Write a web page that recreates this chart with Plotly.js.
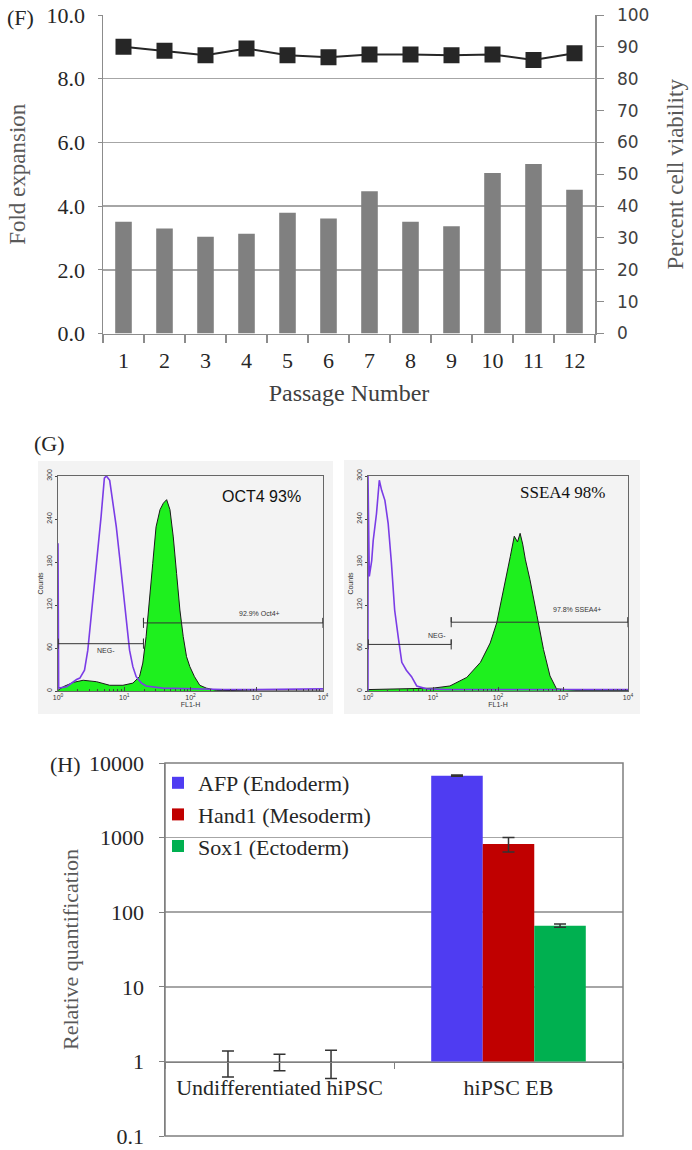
<!DOCTYPE html>
<html><head><meta charset="utf-8">
<script src="https://cdn.plot.ly/plotly-3.0.1.min.js"></script>
<style>html,body{margin:0;padding:0;background:#fff;} #chart{width:692px;height:1150px;}</style>
</head><body><div id="chart"></div>
<script>
// ---------- Panel F : expansion & viability ----------
var passages = ['1','2','3','4','5','6','7','8','9','10','11','12'];
var foldExpansion = [3.51, 3.30, 3.04, 3.13, 3.79, 3.61, 4.47, 3.51, 3.37, 5.04, 5.32, 4.51];
var viability = [90.0, 88.8, 87.4, 89.5, 87.4, 86.7, 87.6, 87.6, 87.4, 87.6, 85.9, 88.0];

// ---------- Panel G : flow cytometry (log10 FL1-H, counts) ----------
var oct4IsoLogFL1 = [0.0, 0.01, 0.13, 0.28, 0.33, 0.40, 0.45, 0.50, 0.55, 0.60, 0.65, 0.70, 0.73, 0.78, 0.83, 0.88, 0.93, 0.98, 1.03, 1.08, 1.13, 1.18, 1.26, 1.33, 1.58, 2.0, 2.5, 3.0, 3.5, 4.0];
var oct4IsoCounts = [206, 4, 6, 16, 18, 29, 57, 104, 155, 192, 243, 297, 300, 294, 263, 229, 187, 141, 99, 57, 34, 20, 11, 7, 4, 3, 2, 2, 2, 3];
var oct4LogFL1 = [0.0, 0.08, 0.23, 0.38, 0.58, 0.78, 0.98, 1.13, 1.23, 1.28, 1.33, 1.38, 1.43, 1.48, 1.54, 1.59, 1.64, 1.69, 1.74, 1.79, 1.84, 1.89, 1.94, 1.99, 2.06, 2.14, 2.24, 2.39, 3.0, 4.0];
var oct4Counts = [1, 6, 12, 15, 13, 8, 8, 11, 20, 39, 76, 122, 178, 229, 253, 262, 267, 253, 215, 164, 113, 76, 48, 34, 20, 8, 4, 1, 0, 0];
var oct4NegGate = [0, 1.29], oct4NegLevel = 66;
var oct4PosGate = [1.29, 4], oct4PosLevel = 95;

var ssea4IsoLogFL1 = [0.0, 0.0, 0.02, 0.057, 0.08, 0.13, 0.174, 0.21, 0.26, 0.31, 0.36, 0.41, 0.47, 0.52, 0.59, 0.67, 0.75, 0.90, 1.2, 1.6, 2.0, 2.5, 3.0, 3.5, 4.0];
var ssea4IsoCounts = [0, 300, 160, 182, 210, 247, 294, 280, 266, 234, 179, 113, 72, 40, 29, 20, 7, 3, 2, 2, 1, 1, 1, 1, 2];
var ssea4LogFL1 = [0.0, 0.5, 1.0, 1.26, 1.52, 1.73, 1.88, 1.98, 2.08, 2.19, 2.25, 2.30, 2.34, 2.38, 2.42, 2.49, 2.60, 2.70, 2.80, 2.90, 3.2, 4.0];
var ssea4Counts = [2, 3, 4, 7, 19, 40, 67, 95, 137, 188, 216, 208, 220, 205, 184, 156, 105, 58, 21, 3, 1, 1];
var ssea4NegGate = [0, 1.28], ssea4NegLevel = 65;
var ssea4PosGate = [1.28, 4], ssea4PosLevel = 96;

// ---------- Panel H : qPCR ----------
var groups = ['Undifferentiated hiPSC', 'hiPSC EB'];
var afp = [1, 6760], afpErr = [0.38, 140];
var hand1 = [1, 820], hand1Err = [0.25, 180];
var sox1 = [1, 66], sox1Err = [0.41, 3.3];
var logTicks = [0.1, 1, 10, 100, 1000, 10000];
var logTickText = ['0.1', '1', '10', '100', '1000', '10000'];

// ---------- helpers ----------
var W = 692, H = 1150;
function px(x){ return x / W; }
function py(y){ return 1 - y / H; }
function pow10(a){ return a.map(function(d){ return Math.pow(10, d); }); }
function gate(bounds, level, xa, ya){
  var h = 7;
  return {x: pow10([bounds[0], bounds[0], bounds[0], bounds[1], bounds[1], bounds[1]]),
          y: [level - h, level + h, level, level, level + h, level - h],
          xaxis: xa, yaxis: ya, mode: 'lines', line: {color: '#333', width: 1},
          showlegend: false, hoverinfo: 'skip', type: 'scatter'};
}
var serif = 'Liberation Serif, Times New Roman, serif';
var sans = 'Liberation Sans, Arial, sans-serif';
var verd = 'DejaVu Sans, Verdana, sans-serif';
var purple = '#7a3ce6', green = '#1ef01e';

var minorVals = [];
for (var dcd = 0; dcd < 4; dcd++) for (var k = 2; k <= 9; k++) minorVals.push(k * Math.pow(10, dcd));

var data = [
  // F
  {type: 'bar', x: passages, y: foldExpansion, xaxis: 'x', yaxis: 'y', width: 0.405,
   marker: {color: '#808080'}, showlegend: false, name: 'Fold expansion'},
  {type: 'scatter', mode: 'lines+markers', x: passages, y: viability, xaxis: 'x', yaxis: 'y2',
   line: {color: '#262626', width: 2}, marker: {symbol: 'square', size: 16, color: '#262626'},
   showlegend: false, name: 'Percent cell viability'},
  // G left
  {type: 'scatter', mode: 'lines', x: pow10(oct4LogFL1), y: oct4Counts, xaxis: 'x2', yaxis: 'y3',
   fill: 'tozeroy', fillcolor: green, line: {color: '#1a1a1a', width: 1}, showlegend: false, name: 'OCT4'},
  {type: 'scatter', mode: 'lines', x: pow10(oct4IsoLogFL1), y: oct4IsoCounts, xaxis: 'x2', yaxis: 'y3',
   line: {color: purple, width: 1.6}, showlegend: false, name: 'Isotype'},
  gate(oct4NegGate, oct4NegLevel, 'x2', 'y3'),
  gate(oct4PosGate, oct4PosLevel, 'x2', 'y3'),
  // G right
  {type: 'scatter', mode: 'lines', x: pow10(ssea4LogFL1), y: ssea4Counts, xaxis: 'x3', yaxis: 'y4',
   fill: 'tozeroy', fillcolor: green, line: {color: '#1a1a1a', width: 1}, showlegend: false, name: 'SSEA4'},
  {type: 'scatter', mode: 'lines', x: pow10(ssea4IsoLogFL1), y: ssea4IsoCounts, xaxis: 'x3', yaxis: 'y4',
   line: {color: purple, width: 1.6}, showlegend: false, name: 'Isotype'},
  gate(ssea4NegGate, ssea4NegLevel, 'x3', 'y4'),
  gate(ssea4PosGate, ssea4PosLevel, 'x3', 'y4'),
  // H
  {type: 'bar', name: 'AFP (Endoderm)', x: groups, y: afp.map(function(v){return v - 1;}), base: 1,
   xaxis: 'x4', yaxis: 'y5', marker: {color: '#4f3cf2'},
   error_y: {type: 'data', array: afpErr, color: '#333', thickness: 1.5, width: 6}},
  {type: 'bar', name: 'Hand1 (Mesoderm)', x: groups, y: hand1.map(function(v){return v - 1;}), base: 1,
   xaxis: 'x4', yaxis: 'y5', marker: {color: '#c00000'},
   error_y: {type: 'data', array: hand1Err, color: '#333', thickness: 1.5, width: 6}},
  {type: 'bar', name: 'Sox1 (Ectoderm)', x: groups, y: sox1.map(function(v){return v - 1;}), base: 1,
   xaxis: 'x4', yaxis: 'y5', marker: {color: '#00b050'},
   error_y: {type: 'data', array: sox1Err, color: '#333', thickness: 1.5, width: 6}}
];

function flowX(dom, anchor){
  return {domain: dom, anchor: anchor, type: 'log', range: [0, 4],
    tickvals: [1, 10, 100, 1000, 10000],
    ticktext: ['10<sup>0</sup>', '10<sup>1</sup>', '10<sup>2</sup>', '10<sup>3</sup>', '10<sup>4</sup>'],
    ticks: 'inside', ticklen: 4, tickcolor: '#444',
    minor: {tickvals: minorVals, ticks: 'inside', ticklen: 2, tickcolor: '#444'},
    showline: true, mirror: true, linecolor: '#666', linewidth: 1,
    showgrid: false, zeroline: false, ticklabelstandoff: 0,
    tickfont: {family: sans, size: 7, color: '#333'},
    title: {text: 'FL1-H', font: {family: sans, size: 7, color: '#333'}, standoff: 1}};
}
function flowY(dom, anchor){
  return {domain: dom, anchor: anchor, range: [0, 300], tickvals: [0, 60, 120, 180, 240, 300],
    tickangle: -90, ticks: 'outside', ticklen: 2, tickcolor: '#444',
    showline: true, mirror: true, linecolor: '#666', linewidth: 1,
    showgrid: false, zeroline: false,
    tickfont: {family: sans, size: 7, color: '#333'},
    title: {text: 'Counts', font: {family: sans, size: 7, color: '#333'}, standoff: 1}};
}
function label(t, x, y){
  return {text: t, xref: 'paper', yref: 'paper', x: px(x), y: py(y), xanchor: 'center', yanchor: 'middle',
          showarrow: false, font: {family: serif, size: 22, color: '#262626'}};
}
function note(t, xa, ya, x, y, fam, size){
  return {text: t, xref: xa, yref: ya, x: x, y: y, xanchor: 'center', yanchor: 'middle', showarrow: false,
          font: {family: fam, size: size, color: size > 10 ? '#111' : '#333'}};
}

var layout = {
  width: W, height: H, margin: {l: 0, r: 0, t: 0, b: 0},
  paper_bgcolor: '#ffffff', plot_bgcolor: 'rgba(0,0,0,0)',
  font: {family: serif, color: '#262626'},
  barmode: 'group', bargap: 0.325, bargroupgap: 0,
  showlegend: true,
  legend: {x: px(158), y: py(762), xanchor: 'left', yanchor: 'top', bgcolor: 'rgba(0,0,0,0)',
           font: {family: serif, size: 22, color: '#262626'}, traceorder: 'normal'},
  // F
  xaxis: {domain: [px(103), px(595)], anchor: 'y', type: 'category', range: [-0.5, 11.5],
    tickson: 'boundaries', ticks: 'outside', ticklen: 8, tickcolor: '#8c8c8c', tickwidth: 1.5,
    showline: true, linecolor: '#8c8c8c', linewidth: 1.5, showgrid: false, zeroline: false,
    ticklabelstandoff: 7,
    tickfont: {family: serif, size: 22, color: '#262626'},
    title: {text: 'Passage Number', font: {family: serif, size: 24, color: '#404040'}, standoff: 12}},
  yaxis: {domain: [py(333.5), py(15)], anchor: 'x', range: [0, 10], dtick: 2, tick0: 0, tickformat: '.1f',
    showgrid: true, gridcolor: '#a6a6a6', gridwidth: 1.5, showline: true, linecolor: '#8c8c8c', linewidth: 1.5,
    ticks: 'outside', ticklen: 4, tickcolor: '#8c8c8c', zeroline: false, ticklabelstandoff: 8,
    tickfont: {family: serif, size: 22, color: '#262626'},
    title: {text: 'Fold expansion', font: {family: serif, size: 23, color: '#595959'}, standoff: 14}},
  yaxis2: {overlaying: 'y', side: 'right', anchor: 'x', range: [0, 100], dtick: 10, tick0: 0,
    showgrid: false, showline: true, linecolor: '#8c8c8c', linewidth: 1.5, zeroline: false,
    ticks: 'outside', ticklen: 7, tickcolor: '#8c8c8c', ticklabelstandoff: 10,
    tickfont: {family: verd, size: 17, color: '#404040'},
    title: {text: 'Percent cell viability', font: {family: serif, size: 23, color: '#595959'}, standoff: 18}},
  // G
  xaxis2: flowX([px(58), px(323)], 'y3'),
  yaxis3: flowY([py(691), py(476)], 'x2'),
  xaxis3: flowX([px(368), px(628)], 'y4'),
  yaxis4: flowY([py(691), py(476)], 'x3'),
  // H
  xaxis4: {domain: [px(165), px(623)], anchor: 'free', position: py(1061.5), type: 'category', range: [-0.5, 1.5],
    tickson: 'boundaries', ticks: 'outside', ticklen: 6, tickcolor: '#808080',
    showline: true, linecolor: '#808080', linewidth: 1.5, showgrid: false, zeroline: false,
    ticklabelstandoff: 6,
    tickfont: {family: serif, size: 22, color: '#262626'}},
  yaxis5: {domain: [py(1136), py(763)], anchor: 'x4', type: 'log', range: [-1, 4],
    tickvals: logTicks, ticktext: logTickText,
    showgrid: true, gridcolor: '#a6a6a6', gridwidth: 1.5, ticks: 'outside', ticklen: 5, tickcolor: '#808080',
    showline: true, linecolor: '#808080', linewidth: 1.5, zeroline: false, ticklabelstandoff: 10,
    tickfont: {family: serif, size: 22, color: '#262626'},
    title: {text: 'Relative quantification', font: {family: serif, size: 22, color: '#595959'}, standoff: 4}},
  shapes: [
    {type: 'rect', xref: 'paper', yref: 'paper', x0: px(38), x1: px(333), y0: py(714), y1: py(461),
     fillcolor: '#f3f3f3', line: {width: 0}, layer: 'below'},
    {type: 'rect', xref: 'paper', yref: 'paper', x0: px(344), x1: px(640), y0: py(714), y1: py(460),
     fillcolor: '#f3f3f3', line: {width: 0}, layer: 'below'},
    {type: 'rect', xref: 'x4 domain', yref: 'y5 domain', x0: 0, x1: 1, y0: 0, y1: 1,
     line: {color: '#7f7f7f', width: 1.5}, layer: 'above'}
  ],
  annotations: [
    label('(F)', 20, 17),
    label('(G)', 49, 443),
    label('(H)', 65, 764),
    note('OCT4 93%', 'x2', 'y3', 3.07, 271, sans, 16),
    note('92.9% Oct4+', 'x2', 'y3', 3.04, 108, sans, 7),
    note('NEG-', 'x2', 'y3', 0.73, 56, sans, 7),
    note('SSEA4 98%', 'x3', 'y4', 2.99, 277, serif, 17),
    note('97.8% SSEA4+', 'x3', 'y4', 3.21, 114, sans, 7),
    note('NEG-', 'x3', 'y4', 1.06, 78, sans, 7)
  ]
};

Plotly.newPlot('chart', data, layout, {displayModeBar: false, staticPlot: true});
</script>
</body></html>
